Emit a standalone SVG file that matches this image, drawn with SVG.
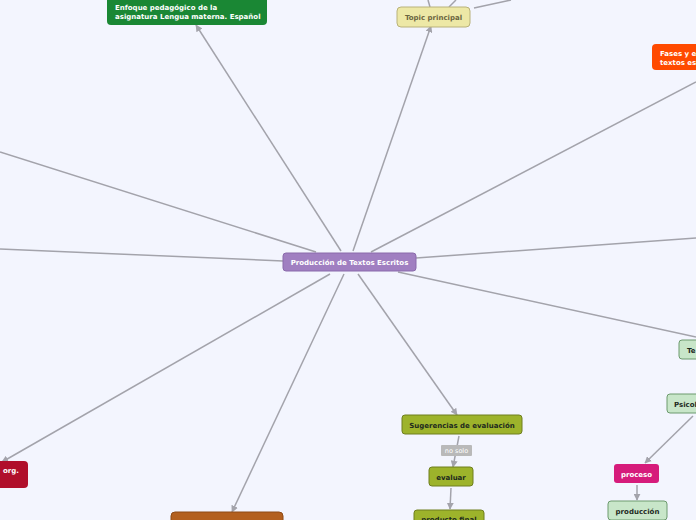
<svg xmlns="http://www.w3.org/2000/svg" width="696" height="520" viewBox="0 0 696 520">
<defs>
<marker id="ah" viewBox="0 0 10 10" refX="9" refY="5" markerWidth="7" markerHeight="7" orient="auto" markerUnits="userSpaceOnUse">
<path d="M0,0 L10,5 L0,10 z" fill="#a3a3ab"/>
</marker>
<style>
.e{stroke:#a3a3ab;stroke-width:1.5;fill:none}
.ea{stroke:#a3a3ab;stroke-width:1.5;fill:none;marker-end:url(#ah)}
.t{font-family:"DejaVu Sans",Verdana,sans-serif;font-weight:bold;font-size:7px}
.w{fill:#ffffff}
.d{fill:#1e2a1e}
.c{text-anchor:middle}
.olive{fill:#9db32b;stroke:#6f7f1f;stroke-width:1}
.lg{fill:#c8e6c9;stroke:#6c9a6e;stroke-width:1}
</style>
</defs>
<rect x="0" y="0" width="696" height="520" fill="#f3f5fe"/>
<g id="connectors">
<path class="ea" d="M341,251 L196,25"/>
<path class="ea" d="M353,251 L431,26"/>
<path class="e" d="M371,252 L696,82"/>
<path class="e" d="M316,252 L0,152"/>
<path class="e" d="M283,261 L0,249"/>
<path class="e" d="M416,258 L696,238"/>
<path class="e" d="M398,272 L696,337"/>
<path class="ea" d="M330,274 L2,462"/>
<path class="ea" d="M344,274 L232,512"/>
<path class="ea" d="M358,274 L457,415"/>
<path class="e" d="M430,7 L428,0"/>
<path class="e" d="M449,7 L456,0"/>
<path class="e" d="M474,8 L511,0"/>
<path class="ea" d="M459,436 L453,467"/>
<path class="ea" d="M451,488 L450,509"/>
<path class="ea" d="M693,416 L645,463"/>
<path class="ea" d="M637,485 L637,500"/>
</g>
<g id="lbl-nosolo">
<rect x="441" y="445" width="31" height="11" rx="1" fill="#b9b9b9"/>
<text class="t w c" x="456.5" y="453" style="font-weight:normal;font-size:6.5px">no solo</text>
</g>
<g id="central">
<rect x="283" y="253" width="133" height="18" rx="3" fill="#a07fc1" stroke="#8a6aab" stroke-width="1"/>
<text class="t w c" x="349.5" y="264.5">Producción de Textos Escritos</text>
</g>
<g id="enfoque">
<rect x="107" y="-4" width="160" height="29" rx="4" fill="#1a8734"/>
<text class="t w" x="115" y="10">Enfoque pedagógico de la</text>
<text class="t w" x="115" y="19">asignatura Lengua materna. Español</text>
</g>
<g id="topic">
<rect x="397" y="7" width="73" height="20" rx="4" fill="#ede8a6" stroke="#b9b27a" stroke-width="1"/>
<text class="t c" x="433.5" y="19.5" fill="#6a6540">Topic principal</text>
</g>
<g id="fases">
<rect x="652" y="44" width="60" height="26" rx="4" fill="#ff4a00"/>
<text class="t w" x="660" y="56">Fases y el</text>
<text class="t w" x="660" y="65">textos escritos</text>
</g>
<g id="org">
<rect x="-20" y="461" width="48" height="27" rx="4" fill="#b00f2b"/>
<text class="t w" x="3" y="473">org.</text>
</g>
<g id="principios">
<rect x="171" y="512" width="112" height="20" rx="4" fill="#b3601f" stroke="#8e4a16" stroke-width="1"/>
</g>
<g id="sugerencias">
<rect class="olive" x="402" y="415" width="120" height="19" rx="3"/>
<text class="t d c" x="462" y="427.5">Sugerencias de evaluación</text>
</g>
<g id="evaluar">
<rect class="olive" x="429" y="467" width="44" height="19" rx="3"/>
<text class="t d c" x="451" y="479.5">evaluar</text>
</g>
<g id="producto">
<rect class="olive" x="414" y="510" width="70" height="18" rx="3"/>
<text class="t d c" x="449" y="522">producto final</text>
</g>
<g id="te">
<rect class="lg" x="679" y="340" width="40" height="19" rx="3"/>
<text class="t d" x="687" y="352.5">Te</text>
</g>
<g id="psicol">
<rect class="lg" x="667" y="394" width="50" height="19" rx="3"/>
<text class="t d" x="674" y="406.5">Psicol</text>
</g>
<g id="proceso">
<rect x="614" y="464" width="45" height="19" rx="3" fill="#d61b7b"/>
<text class="t w c" x="636.5" y="476.5">proceso</text>
</g>
<g id="produccion">
<rect class="lg" x="608" y="501" width="59" height="19" rx="3"/>
<text class="t d c" x="637.5" y="513.5">producción</text>
</g>
</svg>
